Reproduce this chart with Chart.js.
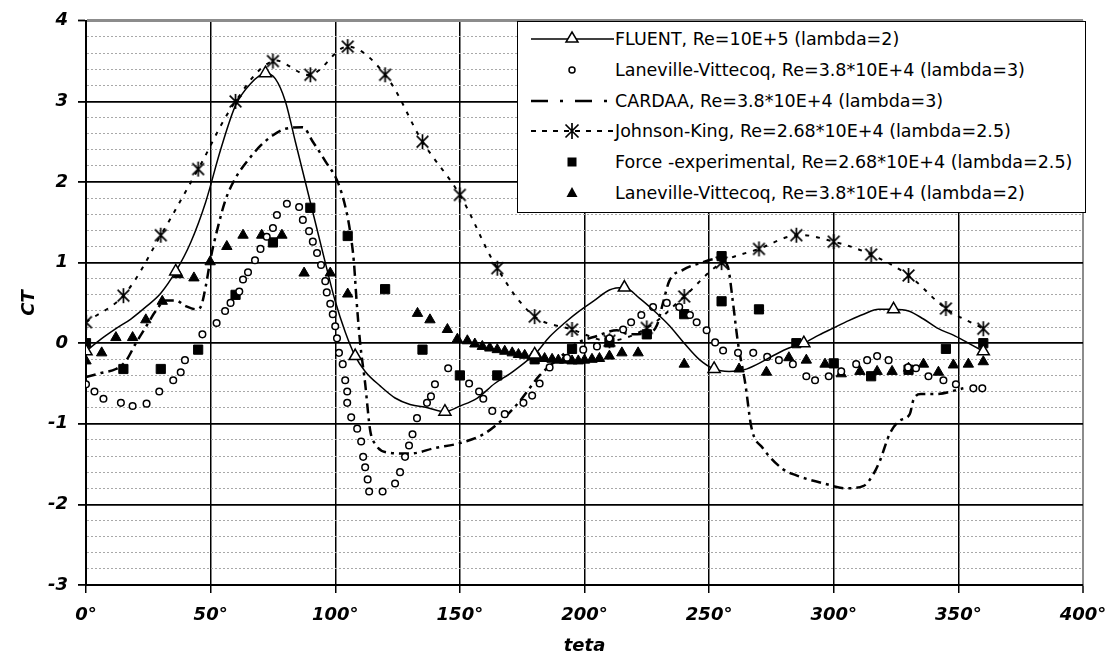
<!DOCTYPE html>
<html>
<head>
<meta charset="utf-8">
<title>CT vs teta</title>
<script src="https://cdn.jsdelivr.net/npm/chart.js@4"></script>
<style>
  body { margin: 0; background: #fff; }
  #wrap { position: relative; width: 1108px; height: 662px; }
  #legend {
    position: absolute; left: 517px; top: 21px; width: 567px; height: 190px;
    border: 1.5px solid #000; background: #fff;
    font-family: 'DejaVu Sans', sans-serif; font-size: 17.5px; color: #000;
  }
  #legend .row { position: absolute; left: 0; height: 20px; width: 100%; }
  #legend svg { position: absolute; left: 12px; top: 0; }
  #legend span { position: absolute; left: 97px; top: 0; line-height: 20px; white-space: nowrap; }
</style>
</head>
<body>
<div id="wrap">
  <canvas id="chart" width="1108" height="662"></canvas>
  <div id="legend"></div>
</div>
<script>
// CT vs teta

// FLUENT, solid line, open triangles every 36 deg
const fluentTheta = [0, 6, 12, 18, 24, 30, 36, 42, 48, 54, 60, 66, 72, 76, 80, 84, 88, 92, 96, 100, 104, 108, 112, 118, 124, 130, 137, 144, 150, 157, 164, 170, 176, 180, 186, 192, 198, 204, 210, 216, 222, 228, 234, 240, 246, 252, 258, 264, 270, 276, 282, 288, 294, 300, 306, 312, 318, 324, 330, 336, 342, 348, 354, 360];
const fluentCT = [-0.1, 0.05, 0.18, 0.3, 0.45, 0.62, 0.89, 1.25, 1.75, 2.4, 2.95, 3.22, 3.35, 3.28, 3.0, 2.5, 2.0, 1.5, 1.0, 0.52, 0.14, -0.16, -0.35, -0.53, -0.68, -0.76, -0.8, -0.85, -0.78, -0.68, -0.5, -0.38, -0.24, -0.14, 0.08, 0.25, 0.4, 0.53, 0.66, 0.69, 0.56, 0.4, 0.22, 0.0, -0.2, -0.32, -0.35, -0.33, -0.25, -0.15, -0.06, 0.0, 0.1, 0.19, 0.28, 0.36, 0.42, 0.42, 0.4, 0.3, 0.18, 0.1, 0.0, -0.1];

// Laneville-Vittecoq lambda=3, open circles
const lv3Theta = [0, 3.4, 7, 14, 18.7, 24.3, 29.4, 35, 38, 39.7, 46.7, 52.4, 55.8, 58, 61.5, 63, 65, 67.8, 70, 72.5, 75, 76.6, 80.6, 85.5, 87, 89.5, 91, 92.7, 94.3, 96, 96.6, 98, 99, 100, 100.7, 101.5, 103, 104, 104.8, 104.8, 106.4, 108.8, 110.4, 111.2, 112, 113, 113.6, 119, 124, 126, 128, 129.6, 131, 132.8, 136.8, 138.4, 140, 145.3, 153.7, 157.7, 159.4, 163, 168, 175.5, 179, 182, 186, 193, 199.5, 205, 210, 215.5, 218.7, 222.8, 227.5, 233, 238, 242.3, 245, 249, 252.4, 255.6, 261.6, 267.7, 273.3, 278, 283.6, 289, 292.5, 298, 303, 309, 313.4, 317.4, 322, 329.8, 333, 338, 344, 349, 356, 359.6];
const lv3CT = [-0.51, -0.6, -0.69, -0.74, -0.78, -0.75, -0.6, -0.46, -0.36, -0.21, 0.11, 0.25, 0.4, 0.5, 0.64, 0.79, 0.88, 1.03, 1.17, 1.32, 1.43, 1.59, 1.73, 1.69, 1.53, 1.39, 1.26, 1.12, 0.97, 0.77, 0.63, 0.49, 0.36, 0.21, 0.06, -0.12, -0.26, -0.46, -0.6, -0.74, -0.92, -1.06, -1.22, -1.41, -1.54, -1.69, -1.84, -1.84, -1.74, -1.6, -1.41, -1.27, -1.13, -0.93, -0.74, -0.66, -0.51, -0.31, -0.5, -0.6, -0.69, -0.84, -0.88, -0.74, -0.65, -0.5, -0.3, -0.18, -0.08, -0.04, 0.06, 0.17, 0.26, 0.35, 0.45, 0.5, 0.45, 0.35, 0.26, 0.16, 0.01, -0.09, -0.12, -0.12, -0.17, -0.21, -0.26, -0.41, -0.46, -0.41, -0.35, -0.26, -0.21, -0.16, -0.21, -0.3, -0.31, -0.41, -0.46, -0.51, -0.56, -0.56];

// CARDAA, dash-dot line
const cardaaTheta = [0, 6, 12, 16, 20, 24, 28, 32, 36, 40, 44, 46, 48, 50, 53, 56, 60, 65, 70, 75, 80, 87, 91, 96, 101, 104, 106, 107.5, 108.5, 110, 112, 114, 116, 122, 130, 140, 150, 160, 168, 174, 182, 190, 197, 205, 213, 218, 225, 229, 231.5, 234, 239.5, 246, 254, 257.5, 259.5, 261.5, 264.5, 267, 271.5, 279.5, 285, 296, 305, 312, 316, 318.5, 322.5, 326.5, 330.5, 332, 335, 341, 352];
const cardaaCT = [-0.42, -0.37, -0.32, -0.22, 0.0, 0.2, 0.4, 0.53, 0.53, 0.46, 0.42, 0.45, 0.7, 1.05, 1.45, 1.78, 2.05, 2.27, 2.45, 2.58, 2.66, 2.68, 2.5, 2.26, 2.0, 1.7, 1.38, 1.0, 0.55, 0.0, -0.5, -1.08, -1.25, -1.36, -1.37, -1.3, -1.24, -1.12, -0.92, -0.72, -0.4, -0.18, 0.0, 0.09, 0.16, 0.11, 0.12, 0.22, 0.5, 0.77, 0.91, 0.99, 1.05, 0.95, 0.52, 0.02, -0.5, -1.05, -1.3, -1.56, -1.64, -1.74, -1.8, -1.77, -1.62, -1.46, -1.12, -0.96, -0.88, -0.7, -0.63, -0.63, -0.56];

// Johnson-King, short dashes with asterisks
const jkTheta = [0, 15, 30, 45, 60, 75, 90, 105, 120, 135, 150, 165, 180, 195, 210, 225, 240, 255, 270, 285, 300, 315, 330, 345, 360];
const jkCT = [0.26, 0.59, 1.34, 2.16, 3.0, 3.5, 3.33, 3.68, 3.33, 2.5, 1.84, 0.93, 0.33, 0.17, 0.03, 0.19, 0.58, 1.0, 1.17, 1.34, 1.26, 1.1, 0.84, 0.43, 0.18];

// Force experimental, filled squares
const forceTheta = [0, 15, 30, 45, 60, 75, 90, 105, 120, 135, 150, 165, 180, 195, 210, 225, 240, 255, 255, 270, 285, 300, 315, 330, 345, 360];
const forceCT = [0.0, -0.32, -0.32, -0.08, 0.6, 1.25, 1.68, 1.33, 0.67, -0.08, -0.4, -0.4, -0.2, -0.07, 0.01, 0.11, 0.36, 1.08, 0.52, 0.42, 0.0, -0.25, -0.41, -0.33, -0.07, 0.0];

// Laneville-Vittecoq lambda=2, filled triangles
const lv2Theta = [0, 6.3, 12, 18.7, 24, 30.6, 37, 43.3, 49.8, 56.5, 63, 70.5, 78.6, 87.5, 98, 105, 133, 138, 145, 149, 153, 156, 159, 162, 165, 168, 171, 173.5, 176, 179, 181.5, 184, 187, 189.5, 192, 195, 197.5, 200, 203, 206, 210, 215, 221.5, 240, 262, 273, 282, 289, 296.5, 303, 310.5, 317.4, 323.4, 330, 336, 342, 348, 354, 360];
const lv2CT = [-0.22, -0.12, 0.07, 0.07, 0.29, 0.52, 0.85, 0.81, 1.01, 1.2, 1.34, 1.34, 1.34, 0.87, 0.87, 0.61, 0.37, 0.29, 0.17, 0.05, 0.03, -0.01, -0.04, -0.06, -0.08, -0.1, -0.12, -0.14, -0.15, -0.17, -0.18, -0.19, -0.2, -0.21, -0.21, -0.22, -0.22, -0.21, -0.2, -0.19, -0.16, -0.12, -0.12, -0.26, -0.32, -0.36, -0.18, -0.21, -0.26, -0.38, -0.35, -0.35, -0.35, -0.31, -0.26, -0.36, -0.27, -0.26, -0.23];

const legendLabels = [
    'FLUENT, Re=10E+5 (lambda=2)',
    'Laneville-Vittecoq, Re=3.8*10E+4 (lambda=3)',
    'CARDAA, Re=3.8*10E+4 (lambda=3)',
    'Johnson-King, Re=2.68*10E+4 (lambda=2.5)',
    'Force -experimental, Re=2.68*10E+4 (lambda=2.5)',
    'Laneville-Vittecoq, Re=3.8*10E+4 (lambda=2)'
];

const yTicks = [-3, -2, -1, 0, 1, 2, 3, 4];
const xTicks = [0, 50, 100, 150, 200, 250, 300, 350, 400];

function pairs(xs, ys) {
    return xs.map((x, i) => ({ x: x, y: ys[i] }));
}

function isMajor(v) {
    return yTicks.some(t => Math.abs(t - v) < 1e-6);
}

// asterisk marker: X with a vertical bar
function makeAsterisk(size) {
    const c = document.createElement('canvas');
    c.width = size; c.height = size;
    const g = c.getContext('2d');
    const m = size / 2, r = size / 2 - 1, d = r * 0.78;
    g.strokeStyle = '#000';
    g.lineWidth = 1.7;
    g.beginPath();
    g.moveTo(m, m - r); g.lineTo(m, m + r);
    g.moveTo(m - d, m - d); g.lineTo(m + d, m + d);
    g.moveTo(m + d, m - d); g.lineTo(m - d, m + d);
    g.stroke();
    return c;
}
const asterisk = makeAsterisk(17);

const tickFont = { family: "'DejaVu Sans'", size: 18, style: 'italic', weight: 'bold' };

const ctx = document.getElementById('chart');
const chart = new Chart(ctx, {
    type: 'scatter',
    data: {
        datasets: [
            {
                label: legendLabels[0],
                data: pairs(fluentTheta, fluentCT),
                showLine: true,
                borderColor: '#000',
                borderWidth: 1.5,
                cubicInterpolationMode: 'monotone',
                pointStyle: 'triangle',
                pointRadius: fluentTheta.map(t => t % 36 === 0 ? 7 : 0),
                pointBackgroundColor: '#fff',
                pointBorderColor: '#000',
                pointBorderWidth: 1.5
            },
            {
                label: legendLabels[1],
                data: pairs(lv3Theta, lv3CT),
                showLine: false,
                pointStyle: 'circle',
                pointRadius: 3.3,
                pointBackgroundColor: '#fff',
                pointBorderColor: '#000',
                pointBorderWidth: 1.5
            },
            {
                label: legendLabels[2],
                data: pairs(cardaaTheta, cardaaCT),
                showLine: true,
                borderColor: '#000',
                borderWidth: 2.5,
                borderDash: [10, 5, 3, 5],
                cubicInterpolationMode: 'monotone',
                pointRadius: 0
            },
            {
                label: legendLabels[3],
                data: pairs(jkTheta, jkCT),
                showLine: true,
                borderColor: '#000',
                borderWidth: 2,
                borderDash: [4, 7],
                tension: 0.35,
                pointStyle: asterisk,
                pointRadius: 8
            },
            {
                label: legendLabels[4],
                data: pairs(forceTheta, forceCT),
                showLine: false,
                pointStyle: 'rect',
                pointRadius: 6.5,
                pointBackgroundColor: '#000',
                pointBorderColor: '#000',
                pointBorderWidth: 1
            },
            {
                label: legendLabels[5],
                data: pairs(lv2Theta, lv2CT),
                showLine: false,
                pointStyle: 'triangle',
                pointRadius: 6,
                pointBackgroundColor: '#000',
                pointBorderColor: '#000',
                pointBorderWidth: 1
            }
        ]
    },
    options: {
        responsive: false,
        devicePixelRatio: 1,
        animation: false,
        layout: { padding: { top: 19, right: 25, left: 0, bottom: 0 } },
        plugins: {
            legend: { display: false },
            tooltip: { enabled: false }
        },
        events: [],
        scales: {
            x: {
                type: 'linear',
                min: 0,
                max: 400,
                afterFit: scale => {
                    // fixed axis band; keep edge labels from squeezing the plot
                    scale.height = 77;
                    scale.paddingLeft = 0;
                    scale.paddingRight = 0;
                },
                ticks: {
                    stepSize: 50,
                    color: '#000',
                    font: tickFont,
                    padding: 12,
                    maxRotation: 0,
                    callback: v => v + '°'
                },
                grid: {
                    color: c => c.tick && c.tick.value === 400 ? '#8c8c8c' : '#000',
                    lineWidth: c => c.tick && c.tick.value === 400 ? 2 : 1.5,
                    tickColor: '#000',
                    tickLength: 8,
                    tickWidth: 1.5
                },
                border: { color: '#000', width: 2 },
                title: {
                    display: true,
                    text: 'teta',
                    color: '#000',
                    font: tickFont,
                    padding: { top: 0, bottom: 5 }
                }
            },
            y: {
                type: 'linear',
                min: -3,
                max: 4,
                afterFit: scale => { scale.width = 86; },
                ticks: {
                    stepSize: 0.2,
                    autoSkip: false,
                    color: '#000',
                    font: tickFont,
                    padding: 10,
                    callback: v => isMajor(v) ? String(Math.round(v)) : ''
                },
                grid: {
                    color: c => {
                        if (!c.tick) return '#000';
                        if (!isMajor(c.tick.value)) return '#a8a8a8';
                        return Math.abs(c.tick.value - 4) < 1e-6 ? '#8c8c8c' : '#000';
                    },
                    lineWidth: c => {
                        if (!c.tick) return 1;
                        if (!isMajor(c.tick.value)) return 1;
                        return Math.abs(c.tick.value - 4) < 1e-6 ? 3 : 1.8;
                    },
                    tickColor: c => c.tick && isMajor(c.tick.value) ? '#000' : 'rgba(0,0,0,0)',
                    tickLength: 8,
                    tickWidth: 1.8
                },
                border: {
                    color: '#000',
                    width: 2,
                    dash: c => c.tick && !isMajor(c.tick.value) ? [2, 2] : []
                },
                title: {
                    display: true,
                    text: 'CT',
                    color: '#000',
                    font: tickFont,
                    padding: { top: 19, bottom: 0 }
                }
            }
        }
    }
});

// HTML legend with line / marker samples
const legendSymbols = [
    '<line x1="1" y1="10" x2="84" y2="10" stroke="#000" stroke-width="1.5"/>' +
    '<polygon points="42,3 48,13 36,13" fill="#fff" stroke="#000" stroke-width="1.5"/>',
    '<circle cx="42" cy="10" r="3" fill="#fff" stroke="#000" stroke-width="1.5"/>',
    '<line x1="1" y1="10" x2="84" y2="10" stroke="#000" stroke-width="2.5" stroke-dasharray="17 12 3 12"/>',
    '<line x1="1" y1="10" x2="84" y2="10" stroke="#000" stroke-width="2" stroke-dasharray="5 6"/>' +
    '<path d="M42 2 V18 M35.5 3.5 L48.5 16.5 M48.5 3.5 L35.5 16.5" stroke="#000" stroke-width="1.7" fill="none"/>',
    '<rect x="37.5" y="5.5" width="9" height="9" fill="#000"/>',
    '<polygon points="42,4 47.5,14 36.5,14" fill="#000"/>'
];
const legendEl = document.getElementById('legend');
legendLabels.forEach((label, i) => {
    const row = document.createElement('div');
    row.className = 'row';
    row.style.top = (7 + i * 30.8) + 'px';
    row.innerHTML = '<svg width="86" height="20">' + legendSymbols[i] + '</svg><span></span>';
    row.querySelector('span').textContent = label;
    legendEl.appendChild(row);
});
</script>
</body>
</html>
